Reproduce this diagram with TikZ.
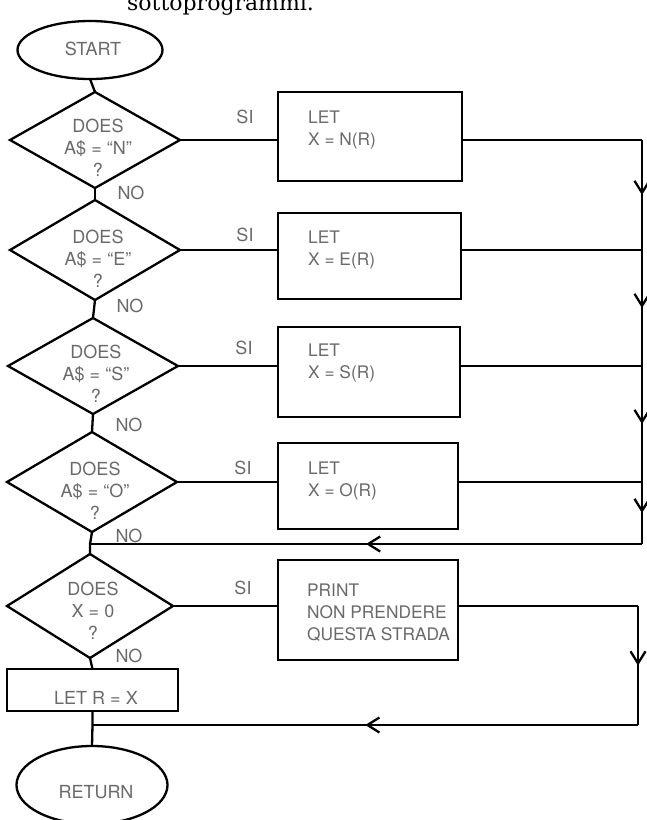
\documentclass[tikz,border=0pt]{standalone}
\usepackage{fontspec}
\setmainfont{TeX Gyre Heros}
\newfontfamily\headfont{DejaVu Serif}
\usetikzlibrary{shapes.geometric,arrows.meta,decorations.markings}
\definecolor{txtgray}{HTML}{6A6A6A}
\begin{document}
\begin{tikzpicture}[x=1pt,y=-1pt,
  flow/.style={line width=2.3pt,black,line join=miter},
  midarrow/.style={decoration={markings,mark=at position 0.5 with {\arrow{Straight Barb[length=12pt,width=15pt,line width=2.3pt]}}},postaction={decorate}},
  diam/.style={diamond,draw,line width=2.3pt,inner sep=0pt,outer sep=0pt},
  boxshape/.style={rectangle,draw,line width=2.3pt,inner sep=0pt,outer sep=0pt},
  term/.style={ellipse,draw,line width=2.3pt,inner sep=0pt,outer sep=0pt},
  lbl/.style={inner sep=0pt,text=txtgray,font=\fontsize{18}{22}\selectfont},
  dtext/.style={lbl,align=center},
  btext/.style={lbl,align=left,anchor=north west,font=\fontsize{17.3}{22}\selectfont}]
\fill[white] (0,0) rectangle (646,820);
\useasboundingbox (0,0) rectangle (646,820);

% heading fragment (cut off at top, as in the reference)
\node[anchor=base west,inner sep=0pt,font=\headfont\fontsize{22}{22}\selectfont] (head) at (127,10) {sottoprogrammi.};

% terminals
\node[term,minimum width=145pt,minimum height=58pt] (start) at (90,50) {};
\node[lbl] (startt) at (93,49) {START};
\node[term,minimum width=151pt,minimum height=78pt] (ret) at (92,785) {};
\node[lbl] (rett) at (96,792) {RETURN};

% decisions
\node[diam,minimum width=170pt,minimum height=96pt] (d1) at (95,140) {};
\node[diam,minimum width=170pt,minimum height=100pt] (d2) at (95,250) {};
\node[diam,minimum width=170pt,minimum height=96pt] (d3) at (93,366) {};
\node[diam,minimum width=170pt,minimum height=100pt] (d4) at (92,482) {};
\node[diam,minimum width=166pt,minimum height=104pt] (d5) at (90,606) {};

\node[dtext] (dt1) at (98,148) {DOES\\A\$ = ``N''\\?};
\node[dtext] (dt2) at (98,259) {DOES\\A\$ = ``E''\\?};
\node[dtext] (dt3) at (96,374) {DOES\\A\$ = ``S''\\?};
\node[dtext] (dt4) at (95,491) {DOES\\A\$ = ``O''\\?};
\node[dtext] (dt5) at (93,611) {DOES\\X = 0\\?};

% process boxes
\node[boxshape,minimum width=184pt,minimum height=89pt] (b1) at (370,136.5) {};
\node[boxshape,minimum width=183pt,minimum height=86pt] (b2) at (369.5,256) {};
\node[boxshape,minimum width=182pt,minimum height=90pt] (b3) at (369,372) {};
\node[boxshape,minimum width=180pt,minimum height=86pt] (b4) at (368,486) {};
\node[boxshape,minimum width=180pt,minimum height=100pt] (b5) at (368,610) {};
\node[boxshape,minimum width=171pt,minimum height=42pt] (lr) at (92.5,690) {};

\node[btext] (bt1) at (308,111) {LET\\X = N(R)};
\node[btext] (bt2) at (308,231) {LET\\X = E(R)};
\node[btext] (bt3) at (308,344) {LET\\X = S(R)};
\node[btext] (bt4) at (308,462) {LET\\X = O(R)};
\node[btext] (bt5) at (307,584) {PRINT\\NON PRENDERE\\QUESTA STRADA};
\node[lbl] (lrt) at (96,698) {LET R = X};

% SI / NO labels
\node[lbl] (si1) at (245,117) {SI};
\node[lbl] (si2) at (245,235) {SI};
\node[lbl] (si3) at (244,348) {SI};
\node[lbl] (si4) at (243,468) {SI};
\node[lbl] (si5) at (243,588) {SI};
\node[lbl] (no1) at (131,193) {NO};
\node[lbl] (no2) at (130,306) {NO};
\node[lbl] (no3) at (129,425) {NO};
\node[lbl] (no4) at (129,536) {NO};
\node[lbl] (no5) at (129,656) {NO};

% coordinates of the collecting lines
\coordinate (r1) at (642,140);
\coordinate (r2) at (642,250);
\coordinate (r3) at (642,366);
\coordinate (r4) at (642,482);
\coordinate (r5) at (642,544);
\coordinate (j1) at (90,544);
\coordinate (p1) at (638,606);
\coordinate (p2) at (638,725);
\coordinate (j2) at (92.5,725);

% main column
\draw[flow] (start.south) -- (d1.north);
\draw[flow] (d1.south) -- (d2.north);
\draw[flow] (d2.south) -- (d3.north);
\draw[flow] (d3.south) -- (d4.north);
\draw[flow] (d4.south) -- (j1) -- (d5.north);
\draw[flow] (d5.south) -- (lr.north);
\draw[flow] (lr.south) -- (j2) -- (ret.north);

% SI branches
\draw[flow] (d1.east) -- (b1.west |- d1.east);
\draw[flow] (d2.east) -- (b2.west |- d2.east);
\draw[flow] (d3.east) -- (b3.west |- d3.east);
\draw[flow] (d4.east) -- (b4.west |- d4.east);
\draw[flow] (d5.east) -- (b5.west |- d5.east);

\draw[flow] (b1.east |- r1) -- (r1);
\draw[flow] (b2.east |- r2) -- (r2);
\draw[flow] (b3.east |- r3) -- (r3);
\draw[flow] (b4.east |- r4) -- (r4);
\draw[flow] (b5.east |- p1) -- (p1);

\draw[flow,midarrow] (r1) -- (r2);
\draw[flow,midarrow] (r2) -- (r3);
\draw[flow,midarrow] (r3) -- (r4);
\draw[flow,midarrow] (r4) -- (r5);
\draw[flow,midarrow] (r5) -- (j1);
\draw[flow,midarrow] (p1) -- (p2);
\draw[flow,midarrow] (p2) -- (j2);
\end{tikzpicture}
\end{document}
